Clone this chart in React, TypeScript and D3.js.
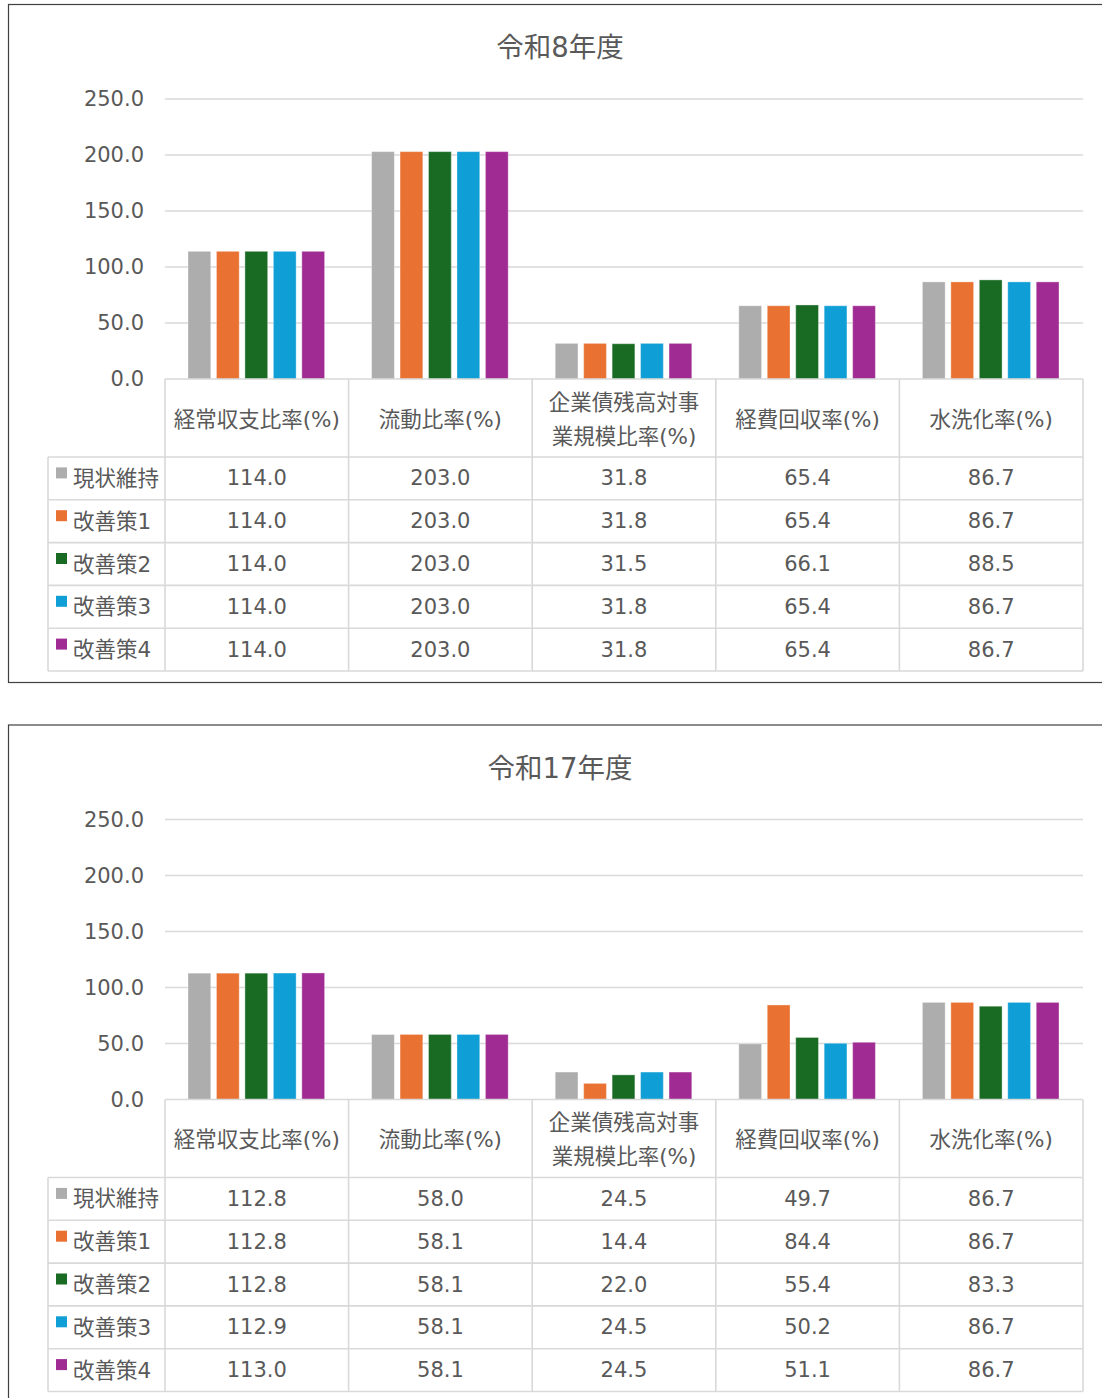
import React from "react";
import * as d3 from "d3";

// categories, series and values
const categories = ["経常収支比率(%)", "流動比率(%)", "企業債残高対事業規模比率(%)", "経費回収率(%)", "水洗化率(%)"];
const categoryLines = [["経常収支比率(%)"], ["流動比率(%)"], ["企業債残高対事", "業規模比率(%)"], ["経費回収率(%)"], ["水洗化率(%)"]];
const seriesNames = ["現状維持", "改善策1", "改善策2", "改善策3", "改善策4"];
const seriesColors = ["#ADADAD", "#E97132", "#196B24", "#0F9ED5", "#A02B93"];
const yTicks = [0, 50, 100, 150, 200, 250];

const r8Values = [
  [114.0, 203.0, 31.8, 65.4, 86.7],
  [114.0, 203.0, 31.8, 65.4, 86.7],
  [114.0, 203.0, 31.5, 66.1, 88.5],
  [114.0, 203.0, 31.8, 65.4, 86.7],
  [114.0, 203.0, 31.8, 65.4, 86.7],
];

const r17Values = [
  [112.8, 58.0, 24.5, 49.7, 86.7],
  [112.8, 58.1, 14.4, 84.4, 86.7],
  [112.8, 58.1, 22.0, 55.4, 83.3],
  [112.9, 58.1, 24.5, 50.2, 86.7],
  [113.0, 58.1, 24.5, 51.1, 86.7],
];

const FONT = "'DejaVu Sans', 'Noto Sans CJK JP', sans-serif";
const TEXT = "#595959";
const GRID = "#D9D9D9";

function Chart({ top, title, values }) {
  const left = 165, right = 1083, legendLeft = 48;
  const plotTop = top + 95, plotBottom = top + 375;
  const headerBottom = top + 453;
  const rowH = 42.8;

  const y = d3.scaleLinear().domain([0, 250]).range([plotBottom, plotTop]);
  const x0 = d3.scaleBand().domain(categories).range([left, right]).padding(0);
  const x1 = d3
    .scaleBand()
    .domain(seriesNames)
    .range([23, x0.bandwidth() - 24])
    .paddingInner(0.2);

  const rowY = (i) => headerBottom + i * rowH;
  const tableBottom = rowY(seriesNames.length);

  return (
    <g fontFamily={FONT}>
      <rect x={8.5} y={top + 0.5} width={1120} height={678} fill="#fff" stroke="#404040" strokeWidth={1.2} />
      <text x={560} y={top + 43} textAnchor="middle" dominantBaseline="central" fontSize={27.5} fill={TEXT}>
        {title}
      </text>

      {/* gridlines + tick labels */}
      {yTicks.map((t) => (
        <g key={t}>
          {t > 0 && <line x1={left} x2={right} y1={y(t)} y2={y(t)} stroke={GRID} strokeWidth={1.5} />}
          <text x={144} y={y(t)} textAnchor="end" dominantBaseline="central" fontSize={21} fill={TEXT}>
            {t.toFixed(1)}
          </text>
        </g>
      ))}

      {/* bars */}
      {categories.map((c, ci) => (
        <g key={c} transform={"translate(" + x0(c) + ",0)"}>
          {seriesNames.map((s, si) => {
            const v = values[si][ci];
            return (
              <rect
                key={s}
                x={x1(s)}
                y={y(v)}
                width={x1.bandwidth()}
                height={plotBottom - y(v)}
                fill={seriesColors[si]}
                stroke="#fff"
                strokeOpacity={0.35}
                strokeWidth={1}
              />
            );
          })}
        </g>
      ))}

      {/* data table */}
      <g stroke={GRID} strokeWidth={1.6}>
        <line x1={left} x2={right} y1={plotBottom} y2={plotBottom} />
        {categories.map((c) => (
          <line key={c} x1={x0(c)} x2={x0(c)} y1={plotBottom} y2={tableBottom} />
        ))}
        <line x1={right} x2={right} y1={plotBottom} y2={tableBottom} />
        <line x1={legendLeft} x2={legendLeft} y1={headerBottom} y2={tableBottom} />
        {seriesNames.map((s, i) => (
          <line key={s} x1={legendLeft} x2={right} y1={rowY(i)} y2={rowY(i)} />
        ))}
        <line x1={legendLeft} x2={right} y1={tableBottom} y2={tableBottom} />
      </g>

      {categories.map((c, ci) => {
        const lines = categoryLines[ci];
        const cx = x0(c) + x0.bandwidth() / 2;
        const mid = (plotBottom + headerBottom) / 2 + 1;
        return lines.map((ln, li) => (
          <text
            key={c + li}
            x={cx}
            y={mid + (li - (lines.length - 1) / 2) * 34}
            textAnchor="middle"
            dominantBaseline="central"
            fontSize={21.5}
            fill={TEXT}
          >
            {ln}
          </text>
        ));
      })}

      {seriesNames.map((s, si) => {
        const cy = rowY(si) + rowH / 2;
        return (
          <g key={s}>
            <rect x={56} y={cy - 11} width={11} height={11} fill={seriesColors[si]} />
            <text x={73} y={cy} dominantBaseline="central" fontSize={21.5} fill={TEXT}>
              {s}
            </text>
            {categories.map((c, ci) => (
              <text
                key={c}
                x={x0(c) + x0.bandwidth() / 2}
                y={cy}
                textAnchor="middle"
                dominantBaseline="central"
                fontSize={21}
                fill={TEXT}
              >
                {values[si][ci].toFixed(1)}
              </text>
            ))}
          </g>
        );
      })}
    </g>
  );
}

export default function App() {
  return (
    <div style={{ position: "absolute", left: 0, top: 0, width: 1102, height: 1398, overflow: "hidden" }}>
      <svg width={1102} height={1398} style={{ display: "block", background: "#fff" }}>
        <Chart top={4} title="令和8年度" values={r8Values} />
        <Chart top={724.5} title="令和17年度" values={r17Values} />
      </svg>
    </div>
  );
}
